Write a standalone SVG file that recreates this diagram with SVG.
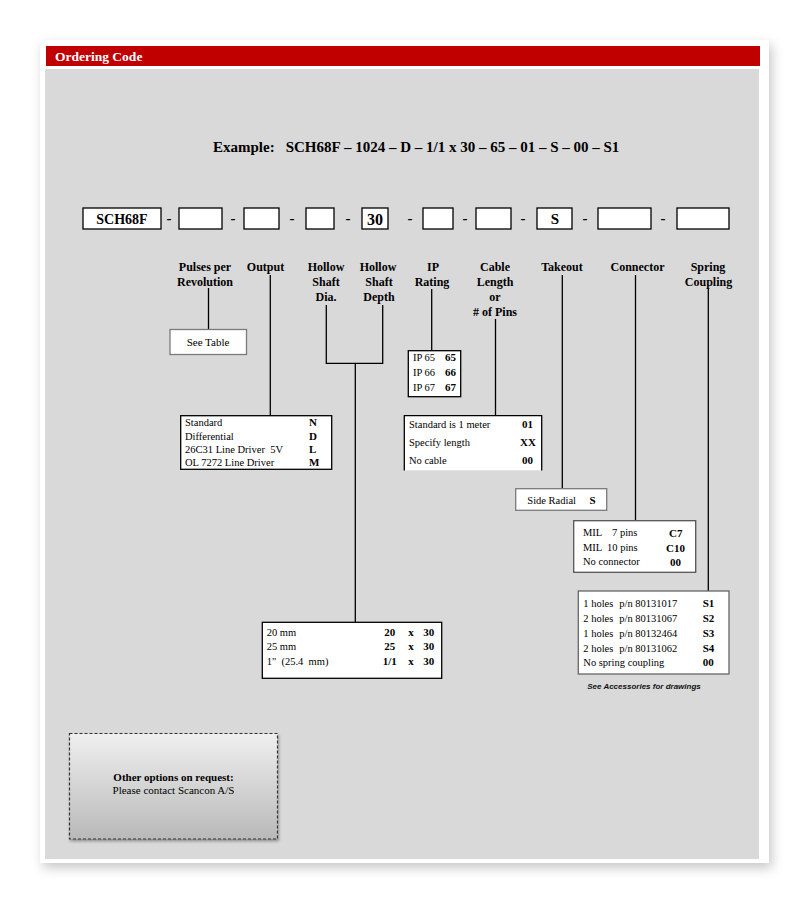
<svg xmlns="http://www.w3.org/2000/svg" width="809" height="903" viewBox="0 0 809 903">
<defs>
<filter id="cardShadow" x="-10%" y="-10%" width="120%" height="120%">
<feDropShadow dx="3" dy="5" stdDeviation="6" flood-color="#000" flood-opacity="0.22"/>
</filter>
<filter id="boxShadow" x="-10%" y="-10%" width="120%" height="130%">
<feDropShadow dx="1" dy="2" stdDeviation="1.5" flood-color="#000" flood-opacity="0.35"/>
</filter>
<linearGradient id="otherGrad" x1="0" y1="0" x2="0" y2="1">
<stop offset="0" stop-color="#efefef"/>
<stop offset="1" stop-color="#b9b9b9"/>
</linearGradient>
</defs>
<style>
text{font-family:"Liberation Serif","Times New Roman",serif;fill:#000}
.b{font-weight:bold}
.lbl{font-size:12px;font-weight:bold;text-anchor:middle}
.code{fill:#fff;stroke:#000;stroke-width:1.3}
.tbl{fill:#fff;stroke:#000;stroke-width:1.3}
.gtbl{fill:#fff;stroke:#7a7a7a;stroke-width:1.3}
.row{font-size:10.5px}
.rc{font-size:11px;font-weight:bold}
.dash{font-size:15px;font-weight:bold;text-anchor:middle}
.conn line,.conn path{stroke:#000;stroke-width:1.3;fill:none}
</style>
<rect x="0" y="0" width="809" height="903" fill="#fff"/>
<rect x="40" y="40" width="729" height="823" fill="#fff" filter="url(#cardShadow)"/>
<rect x="46" y="46" width="714" height="20" fill="#c00000"/>
<text x="55" y="61" fill="#fff" style="fill:#fff;font-size:13.5px;font-weight:bold">Ordering Code</text>
<rect x="45" y="69" width="714" height="790" fill="#d9d9d9"/>

<g id="example">
<text x="213" y="152" class="b" style="font-size:15px">Example:</text>
<text x="285.7" y="152" class="b" style="font-size:15px">SCH68F – 1024 – D – 1/1 x 30 – 65 – 01 – S – 00 – S1</text>
</g>

<g id="code-row">
<rect class="code" x="83" y="208" width="78" height="21"/>
<text x="122" y="223.5" class="b" style="font-size:14px;text-anchor:middle">SCH68F</text>
<text x="169" y="223" class="dash">-</text>
<rect class="code" x="179" y="208" width="43" height="21"/>
<text x="233" y="223" class="dash">-</text>
<rect class="code" x="244" y="208" width="35" height="21"/>
<text x="292" y="223" class="dash">-</text>
<rect class="code" x="306" y="208" width="28" height="21"/>
<text x="348" y="223" class="dash">-</text>
<rect class="code" x="362" y="208" width="26" height="21"/>
<text x="375" y="224.5" class="b" style="font-size:16px;text-anchor:middle">30</text>
<text x="410" y="223" class="dash">-</text>
<rect class="code" x="423" y="208" width="30" height="21"/>
<text x="465" y="223" class="dash">-</text>
<rect class="code" x="476" y="208" width="35" height="21"/>
<text x="523" y="223" class="dash">-</text>
<rect class="code" x="537" y="208" width="35" height="21"/>
<text x="555" y="224" class="b" style="font-size:15px;text-anchor:middle">S</text>
<text x="585" y="223" class="dash">-</text>
<rect class="code" x="598" y="208" width="53" height="21"/>
<text x="663" y="223" class="dash">-</text>
<rect class="code" x="677" y="208" width="52" height="21"/>
</g>

<g id="label-pulses"><text class="lbl" x="205" y="271">Pulses per</text><text class="lbl" x="205" y="286">Revolution</text></g>
<g id="label-output"><text class="lbl" x="265.5" y="271">Output</text></g>
<g id="label-shaft-dia"><text class="lbl" x="326" y="271">Hollow</text><text class="lbl" x="326" y="286">Shaft</text><text class="lbl" x="326" y="301">Dia.</text></g>
<g id="label-shaft-depth"><text class="lbl" x="378" y="271">Hollow</text><text class="lbl" x="379" y="286">Shaft</text><text class="lbl" x="379" y="301">Depth</text></g>
<g id="label-ip"><text class="lbl" x="433" y="271">IP</text><text class="lbl" x="432" y="286">Rating</text></g>
<g id="label-cable"><text class="lbl" x="495" y="271">Cable</text><text class="lbl" x="495" y="286">Length</text><text class="lbl" x="495" y="301">or</text><text class="lbl" x="495" y="316"># of Pins</text></g>
<g id="label-takeout"><text class="lbl" x="562" y="271">Takeout</text></g>
<g id="label-connector"><text class="lbl" x="637.5" y="271">Connector</text></g>
<g id="label-spring"><text class="lbl" x="708" y="271">Spring</text><text class="lbl" x="708.5" y="286">Coupling</text></g>

<g class="conn" id="connectors">
<line x1="208.5" y1="288" x2="208.5" y2="330"/>
<line x1="270.3" y1="275" x2="270.3" y2="416"/>
<path d="M326.3,305 V363.3 H382.7 V305"/>
<line x1="355.3" y1="363.3" x2="355.3" y2="622.3"/>
<line x1="431.7" y1="289" x2="431.7" y2="351"/>
<line x1="495.5" y1="319" x2="495.5" y2="416"/>
<line x1="562.3" y1="275" x2="562.3" y2="489"/>
<line x1="635.5" y1="275" x2="635.5" y2="521"/>
<line x1="708.3" y1="289" x2="708.3" y2="591"/>
</g>

<g id="see-table">
<rect class="gtbl" x="170" y="329.5" width="76.5" height="25"/>
<text x="208" y="345.5" style="font-size:11px;text-anchor:middle">See Table</text>
</g>

<g id="output-table">
<rect class="tbl" x="180.7" y="415.7" width="151" height="53.6"/>
<text class="row" x="185" y="426">Standard</text>
<text class="row" x="185" y="439.5">Differential</text>
<text class="row" x="185" y="453" xml:space="preserve">26C31 Line Driver  5V</text>
<text class="row" x="185" y="466">OL 7272 Line Driver</text>
<text class="rc" x="309" y="426">N</text>
<text class="rc" x="309" y="439.5">D</text>
<text class="rc" x="309" y="453">L</text>
<text class="rc" x="309" y="466">M</text>
</g>

<g id="ip-table">
<rect class="tbl" x="408.3" y="350.7" width="52.4" height="46"/>
<text class="row" x="413" y="360.7">IP 65</text>
<text class="row" x="413" y="375.7">IP 66</text>
<text class="row" x="413" y="390.7">IP 67</text>
<text class="rc" x="445" y="360.7">65</text>
<text class="rc" x="445" y="375.7">66</text>
<text class="rc" x="445" y="390.7">67</text>
</g>

<g id="cable-table">
<rect x="404.3" y="415.7" width="137.4" height="54.6" fill="#fff"/>
<path d="M404.3,470.5 V415.7 H541.7 V470.5" fill="none" stroke="#000" stroke-width="1.3"/>
<text class="row" x="409" y="427.5">Standard is 1 meter</text>
<text class="row" x="409" y="445.5">Specify length</text>
<text class="row" x="409" y="463.5">No cable</text>
<text class="rc" x="522" y="428">01</text>
<text class="rc" x="520" y="446">XX</text>
<text class="rc" x="522" y="464">00</text>
</g>

<g id="takeout-table">
<rect class="gtbl" x="515.7" y="488.7" width="91" height="21.6"/>
<text class="row" x="527.3" y="504">Side Radial</text>
<text class="rc" x="589.5" y="504">S</text>
</g>

<g id="connector-table">
<rect x="573.7" y="520.7" width="122" height="51.6" fill="#fff" stroke="#555" stroke-width="1.3"/>
<text class="row" x="583" y="535.5">MIL</text>
<text class="row" x="612" y="535.5">7 pins</text>
<text class="row" x="583" y="550.7">MIL</text>
<text class="row" x="607" y="550.7">10 pins</text>
<text class="row" x="583" y="565">No connector</text>
<text class="rc" x="669" y="537">C7</text>
<text class="rc" x="666" y="552">C10</text>
<text class="rc" x="670" y="566">00</text>
</g>

<g id="spring-table">
<rect x="578.3" y="591" width="150.7" height="83" fill="#fff" stroke="#666" stroke-width="1.3"/>
<text class="row" x="583.3" y="607">1 holes</text><text class="row" x="619.3" y="607">p/n 80131017</text>
<text class="row" x="583.3" y="622">2 holes</text><text class="row" x="619.3" y="622">p/n 80131067</text>
<text class="row" x="583.3" y="637">1 holes</text><text class="row" x="619.3" y="637">p/n 80132464</text>
<text class="row" x="583.3" y="652">2 holes</text><text class="row" x="619.3" y="652">p/n 80131062</text>
<text class="row" x="583.3" y="666">No spring coupling</text>
<text class="rc" x="702.7" y="606.5">S1</text>
<text class="rc" x="702.7" y="621.5">S2</text>
<text class="rc" x="702.7" y="636.5">S3</text>
<text class="rc" x="702.7" y="651.5">S4</text>
<text class="rc" x="702.7" y="666">00</text>
<text x="644" y="688.5" style="font-family:'Liberation Sans',Arial,sans-serif;font-size:8px;font-weight:bold;font-style:italic;text-anchor:middle;fill:#111">See Accessories for drawings</text>
</g>

<g id="shaft-table">
<rect class="tbl" x="262.3" y="622.3" width="179.4" height="56"/>
<text class="row" x="266.7" y="636">20 mm</text>
<text class="row" x="266.7" y="650.3">25 mm</text>
<text class="row" x="266.7" y="664.5" xml:space="preserve">1"  (25.4  mm)</text>
<text class="rc" x="384.3" y="636">20</text>
<text class="rc" x="384.3" y="650.3">25</text>
<text class="rc" x="382.7" y="664.5">1/1</text>
<text class="rc" x="408.3" y="636">x</text>
<text class="rc" x="408.3" y="650.3">x</text>
<text class="rc" x="408.3" y="664.5">x</text>
<text class="rc" x="423.3" y="636">30</text>
<text class="rc" x="423.3" y="650.3">30</text>
<text class="rc" x="423.3" y="664.5">30</text>
</g>

<g id="other-options">
<rect x="69.5" y="733.5" width="208" height="105.5" fill="url(#otherGrad)" stroke="#333" stroke-width="1.2" stroke-dasharray="3,2" filter="url(#boxShadow)"/>
<text x="173.5" y="780.5" class="b" style="font-size:11px;text-anchor:middle">Other options on request:</text>
<text x="173.5" y="793.5" style="font-size:11px;text-anchor:middle">Please contact Scancon A/S</text>
</g>
</svg>
